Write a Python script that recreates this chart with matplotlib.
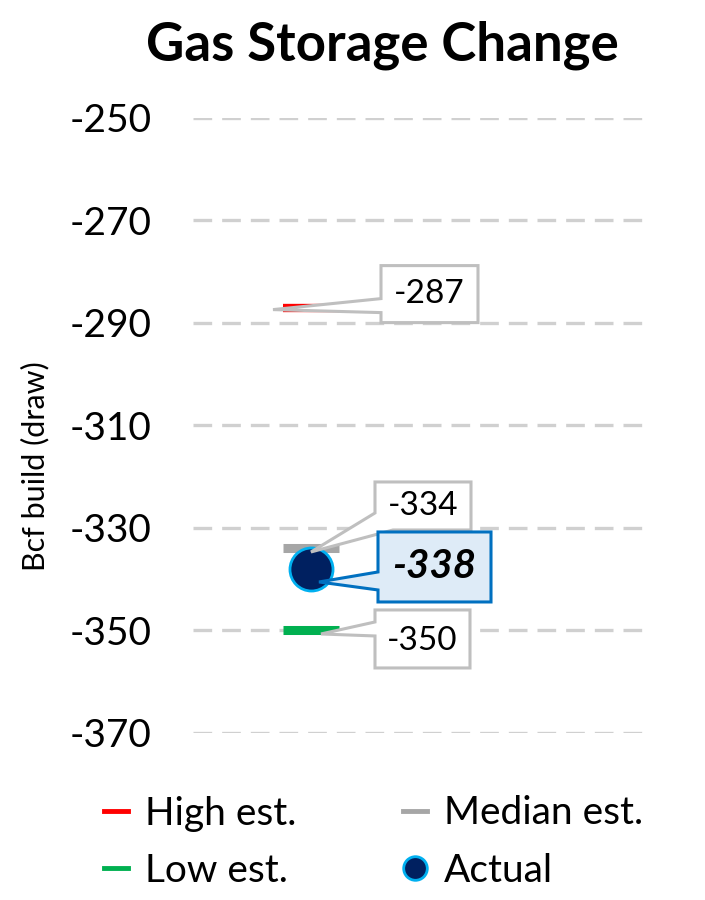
import matplotlib.pyplot as plt
import matplotlib.transforms as mtransforms
from matplotlib.lines import Line2D
from matplotlib.patches import Polygon

plt.rcParams['font.family'] = ['Lato', 'DejaVu Sans']
plt.rcParams['axes.unicode_minus'] = False

# data
categories = ['Gas storage']
high_est = [-287]
median_est = [-334]
low_est = [-350]
actual = [-338]
y_ticks = [-250, -270, -290, -310, -330, -350, -370]

RED = '#FF0000'
GRAY = '#A6A6A6'
GREEN = '#00B050'
NAVY = '#002060'
CYAN = '#00B0F0'

fig = plt.figure(figsize=(7.05, 9.0), dpi=100)
ax = fig.add_axes([0.2738, 0.1856, 0.6454, 0.6833])

x = list(range(len(categories)))
ax.plot(x, high_est, ls='none', marker='_', ms=41, mew=6, color=RED, zorder=3)
ax.plot(x, median_est, ls='none', marker='_', ms=41, mew=6.5, color=GRAY, zorder=3)
ax.plot(x, low_est, ls='none', marker='_', ms=41, mew=6.5, color=GREEN, zorder=3)
ax.plot(x, actual, ls='none', marker='o', ms=31, mfc=NAVY, mec=CYAN, mew=2, zorder=4)

ax.set_xlim(-0.35, 1.0)
ax.set_ylim(-370, -250)
ax.set_yticks(y_ticks)
ax.set_xticks([])
ax.tick_params(axis='y', length=0, pad=30, labelsize=28)
for s in ax.spines.values():
    s.set_visible(False)
ax.yaxis.grid(True, color='#D0D0D0', lw=2.4, linestyle=(0, (5.6, 3.0)))
ax.set_axisbelow(True)


def callout(xv, yv, verts, label, tx, ty, fc='white', ec='#BFBFBF', **kw):
    # verts/offsets in screen pixels relative to the data point (y down)
    trans = fig.dpi_scale_trans + mtransforms.ScaledTranslation(xv, yv, ax.transData)
    pts = [(dx / 100, -dy / 100) for dx, dy in verts]
    ax.add_patch(Polygon(pts, closed=True, transform=trans, fc=fc, ec=ec,
                         lw=2.2, zorder=5, clip_on=False))
    ax.text(tx / 100, -ty / 100, label, transform=trans, ha='center', va='center',
            zorder=6, **kw)


callout(x[0], high_est[0],
        [(70, -42), (167, -42), (167, 15), (70, 15), (70, 5), (-38, 2), (70, -9)],
        str(high_est[0]), 118.5, -13.5, fontsize=24)
callout(x[0], median_est[0],
        [(64, -66.5), (160, -66.5), (160, -18.5), (82, -18.5), (0, 3.5), (64, -35.5)],
        str(median_est[0]), 112, -42.5, fontsize=24)
callout(x[0], actual[0],
        [(67, -37), (180, -37), (180, 33), (67, 33), (67, 21), (8, 13), (67, 3)],
        str(actual[0]), 123, -2, fc='#DEEBF7', ec='#0070C0',
        fontsize=29, fontweight='bold', fontstyle='italic')
callout(x[0], low_est[0],
        [(64, -20.5), (159, -20.5), (159, 37.5), (64, 37.5), (64, 5.5), (10, 3.5), (64, -8.5)],
        str(low_est[0]), 111, 10.5, fontsize=24)

fig.text(0.542, 0.95, 'Gas Storage Change', ha='center', va='center',
         fontsize=38, fontweight='bold')
fig.text(0.05, 0.4817, 'Bcf build (draw)', ha='center', va='center',
         rotation=90, fontsize=22)

handles = [
    Line2D([], [], color=RED, lw=3.5),
    Line2D([], [], color=GREEN, lw=3.5),
    Line2D([], [], color=GRAY, lw=3.5),
    Line2D([], [], ls='none', marker='o', ms=17, mfc=NAVY, mec=CYAN, mew=2),
]
labels = ['High est.', 'Low est.', 'Median est.', 'Actual']
fig.legend(handles, labels, ncol=2, loc='center left', bbox_to_anchor=(0.148, 1 - 842 / 900),
           frameon=False, fontsize=28, handlelength=0.6, handletextpad=0.45,
           columnspacing=2.75, labelspacing=0.54, borderpad=0, borderaxespad=0)

fig.savefig('out.png', dpi=100)
